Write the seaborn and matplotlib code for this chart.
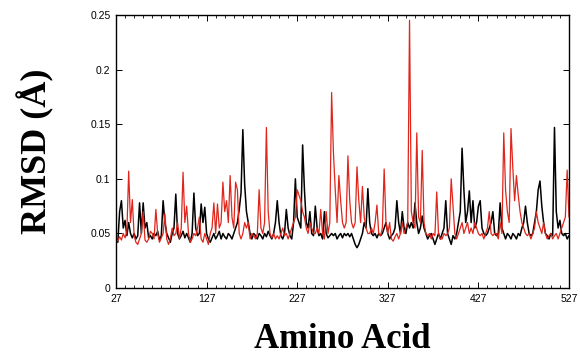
import numpy as np
import pandas as pd
import matplotlib
matplotlib.use("Agg")
import matplotlib.pyplot as plt
from matplotlib.ticker import FixedLocator
import seaborn as sns

sns.set_style("ticks")
plt.rcParams['font.family'] = ['Liberation Sans', 'DejaVu Sans']
plt.rcParams['text.color'] = 'black'
plt.rcParams['axes.labelcolor'] = 'black'
plt.rcParams['xtick.color'] = 'black'
plt.rcParams['ytick.color'] = 'black'

# residue numbers, every second amino acid
residues = list(range(27, 528, 2))

# RMSD (Angstrom), 10 values per line
rmsd_black = [
    0.045, 0.042, 0.07, 0.08, 0.055, 0.062, 0.048, 0.06, 0.05, 0.046,
    0.05, 0.045, 0.048, 0.078, 0.05, 0.078, 0.055, 0.06, 0.046, 0.048,
    0.045, 0.05, 0.048, 0.052, 0.044, 0.048, 0.08, 0.06, 0.05, 0.046,
    0.042, 0.05, 0.055, 0.086, 0.05, 0.045, 0.048, 0.052, 0.046, 0.05,
    0.046, 0.042, 0.05, 0.087, 0.055, 0.048, 0.05, 0.077, 0.06, 0.074,
    0.05, 0.045, 0.042, 0.046, 0.05, 0.045, 0.048, 0.052, 0.045, 0.05,
    0.047, 0.045, 0.05, 0.048, 0.045, 0.05, 0.055, 0.06, 0.072, 0.087,
    0.145, 0.095, 0.07, 0.06, 0.05, 0.045, 0.05, 0.048, 0.045, 0.05,
    0.048, 0.045, 0.05, 0.047, 0.052, 0.048, 0.045, 0.05, 0.06, 0.08,
    0.06, 0.048, 0.045, 0.05, 0.072, 0.055, 0.048, 0.045, 0.06, 0.10,
    0.065, 0.06, 0.055, 0.131, 0.09, 0.06, 0.055, 0.07, 0.05, 0.048,
    0.075, 0.055, 0.048, 0.05, 0.045, 0.07, 0.05, 0.046, 0.048, 0.05,
    0.048, 0.05, 0.045, 0.048, 0.05, 0.046, 0.05, 0.048, 0.05, 0.047,
    0.05, 0.045, 0.04, 0.037, 0.04, 0.045, 0.05, 0.06, 0.055, 0.091,
    0.06, 0.05, 0.048, 0.05, 0.046, 0.05, 0.048, 0.05, 0.055, 0.06,
    0.05, 0.045, 0.048, 0.05, 0.055, 0.08, 0.06, 0.05, 0.07, 0.055,
    0.05, 0.06, 0.055, 0.06, 0.055, 0.078, 0.06, 0.05, 0.055, 0.066,
    0.055, 0.05, 0.045, 0.048, 0.05, 0.045, 0.04, 0.045, 0.05, 0.045,
    0.05, 0.055, 0.08, 0.05, 0.045, 0.04, 0.048, 0.045, 0.05, 0.06,
    0.07, 0.128, 0.09, 0.06, 0.07, 0.089, 0.06, 0.08, 0.055, 0.06,
    0.075, 0.08, 0.055, 0.05, 0.048, 0.05, 0.055, 0.06, 0.07, 0.05,
    0.048, 0.05, 0.078, 0.055, 0.05, 0.045, 0.05, 0.048, 0.045, 0.05,
    0.048, 0.045, 0.05, 0.048, 0.055, 0.06, 0.075, 0.06, 0.05, 0.048,
    0.05, 0.06, 0.07, 0.09, 0.098, 0.075, 0.06, 0.05, 0.048, 0.045,
    0.05, 0.048, 0.147, 0.07, 0.055, 0.062, 0.05, 0.048, 0.05, 0.045,
    0.048,
]

rmsd_red = [
    0.045, 0.043, 0.047, 0.044, 0.05, 0.046, 0.052, 0.107, 0.06, 0.081,
    0.048, 0.042, 0.04, 0.045, 0.05, 0.07, 0.044, 0.042, 0.045, 0.052,
    0.05, 0.045, 0.072, 0.05, 0.042, 0.046, 0.05, 0.068, 0.045, 0.04,
    0.045, 0.055, 0.048, 0.05, 0.06, 0.045, 0.055, 0.106, 0.06, 0.075,
    0.05, 0.042, 0.045, 0.05, 0.048, 0.055, 0.065, 0.045, 0.042, 0.05,
    0.045, 0.04, 0.05, 0.055, 0.078, 0.05, 0.077, 0.055, 0.06, 0.097,
    0.07, 0.08, 0.06, 0.103, 0.065, 0.055, 0.097, 0.09, 0.05, 0.045,
    0.05, 0.06, 0.055, 0.06, 0.045, 0.05, 0.048, 0.045, 0.05, 0.09,
    0.055, 0.05, 0.06, 0.147, 0.07, 0.05, 0.046, 0.05, 0.045, 0.048,
    0.045, 0.05, 0.055, 0.048, 0.05, 0.045, 0.05, 0.055, 0.06, 0.065,
    0.09, 0.085, 0.08, 0.07, 0.065, 0.055, 0.05, 0.06, 0.055, 0.05,
    0.05, 0.055, 0.05, 0.072, 0.05, 0.045, 0.07, 0.05, 0.06, 0.179,
    0.124, 0.09, 0.06, 0.103, 0.08, 0.06, 0.055, 0.06, 0.121, 0.08,
    0.06, 0.055, 0.06, 0.111, 0.08, 0.06, 0.093, 0.065, 0.055, 0.05,
    0.05, 0.055, 0.05, 0.06, 0.076, 0.05, 0.048, 0.055, 0.109, 0.06,
    0.05, 0.06, 0.045, 0.043, 0.047, 0.05, 0.045, 0.05, 0.06, 0.05,
    0.055, 0.06, 0.245, 0.07, 0.06, 0.055, 0.142, 0.065, 0.06, 0.126,
    0.06, 0.05, 0.048, 0.05, 0.045, 0.05, 0.048, 0.088, 0.05, 0.045,
    0.045, 0.05, 0.048, 0.05, 0.055, 0.10, 0.075, 0.05, 0.045, 0.05,
    0.055, 0.06, 0.05, 0.055, 0.06, 0.05, 0.055, 0.05, 0.06, 0.055,
    0.05, 0.048, 0.05, 0.045, 0.05, 0.055, 0.07, 0.05, 0.048, 0.05,
    0.05, 0.045, 0.06, 0.05, 0.142, 0.09, 0.07, 0.06, 0.146, 0.11,
    0.08, 0.103, 0.085, 0.07, 0.06, 0.055, 0.05, 0.048, 0.05, 0.045,
    0.05, 0.055, 0.07, 0.06, 0.055, 0.05, 0.06, 0.05, 0.045, 0.048,
    0.05, 0.045, 0.048, 0.05, 0.045, 0.05, 0.055, 0.06, 0.065, 0.108,
    0.065,
]

x_ticks = [27, 127, 227, 327, 427, 527]
y_ticks = [0, 0.05, 0.1, 0.15, 0.2, 0.25]
y_tick_labels = ["0", "0.05", "0.1", "0.15", "0.2", "0.25"]

df = pd.DataFrame({"residue": residues, "black": rmsd_black, "red": rmsd_red})

fig = plt.figure(figsize=(5.8, 3.62), dpi=100)
ax = fig.add_axes([0.2, 0.204, 0.781, 0.755])

sns.lineplot(data=df, x="residue", y="black", color="black", linewidth=1.1, ax=ax)
sns.lineplot(data=df, x="residue", y="red", color="#e0251b", linewidth=0.9, ax=ax)

ax.set_xlim(27, 527)
ax.set_ylim(0, 0.25)
ax.xaxis.set_major_locator(FixedLocator(x_ticks))
ax.xaxis.set_minor_locator(FixedLocator(list(range(37, 527, 10))))
ax.set_yticks(y_ticks)
ax.set_yticklabels(y_tick_labels)
ax.set_xticklabels([str(t) for t in x_ticks])

ax.tick_params(which="both", direction="in", top=True, right=True,
               labelsize=7.5, pad=4, colors="black")
ax.tick_params(which="major", length=4, width=0.7)
ax.tick_params(which="minor", length=2, width=0.6)
for s in ax.spines.values():
    s.set_linewidth(1.0)
    s.set_color("black")

serif = ['Liberation Serif', 'DejaVu Serif']
ax.set_xlabel("Amino Acid", family=serif, fontweight="bold", fontsize=25,
              labelpad=14, color="black")
ax.set_ylabel("RMSD (Å)", family=serif, fontweight="bold", fontsize=26,
              labelpad=26, color="black")

fig.savefig("out.png", dpi=100)
